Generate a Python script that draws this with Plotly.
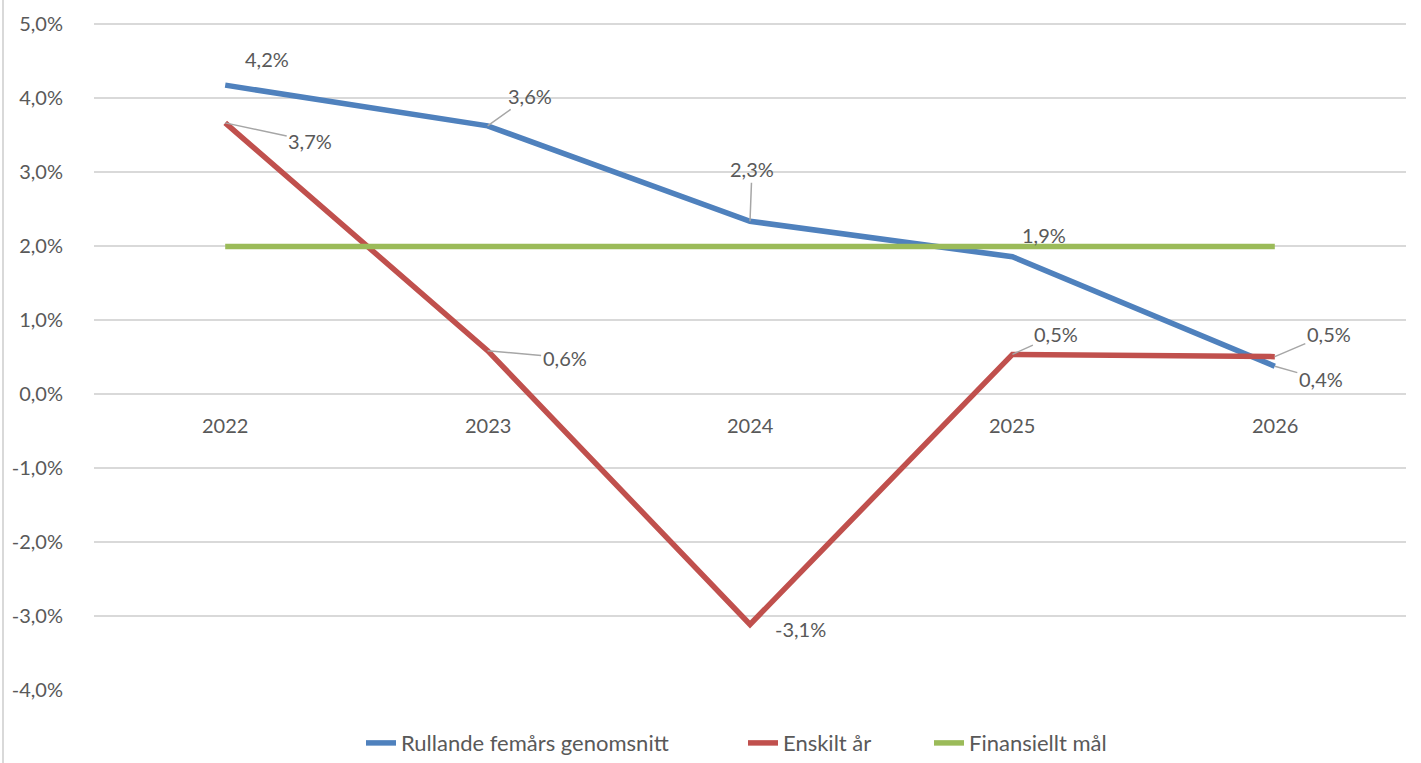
import plotly.graph_objects as go

years = ["2022", "2023", "2024", "2025", "2026"]
rullande = [4.18, 3.63, 2.34, 1.86, 0.38]
enskilt = [3.67, 0.59, -3.11, 0.54, 0.51]
mal = [2.0, 2.0, 2.0, 2.0, 2.0]
names = ["Rullande femårs genomsnitt", "Enskilt år", "Finansiellt mål"]
ytickvals = [5, 4, 3, 2, 1, 0, -1, -2, -3, -4]
yticktext = ["5,0%", "4,0%", "3,0%", "2,0%", "1,0%", "0,0%", "-1,0%", "-2,0%", "-3,0%", "-4,0%"]

FONT = "Lato"
FS = 20
TXT = "#595959"
LEAD = "#A6A6A6"

fig = go.Figure()
colors = ["#4F81BD", "#C0504D", "#9BBB59"]
legends = ["legend", "legend2", "legend3"]
for name, vals, col, lg in zip(names, [rullande, enskilt, mal], colors, legends):
    fig.add_trace(go.Scatter(x=list(range(len(years))), y=vals, mode="lines", name=name,
                             legend=lg, line=dict(color=col, width=5.5)))

def lab(v):
    return f"{v:.1f}%".replace(".", ",")

blue_pos = [(42, -26, False), (42, -30, True), (2, -52, True), (32, -22, False), (46, 13, True)]
red_pos = [(85, 18, True), (77, 7, True), (50, 5, False), (44, -20, True), (54, -23, True)]

anns = []
for vals, pos in [(rullande, blue_pos), (enskilt, red_pos)]:
    for i, (dx, dy, arr) in enumerate(pos):
        if arr:
            anns.append(dict(x=i, y=vals[i], text=lab(vals[i]), showarrow=True,
                             arrowhead=0, arrowwidth=1.5, arrowcolor=LEAD, ax=dx, ay=dy,
                             font=dict(family=FONT, size=FS, color=TXT)))
        else:
            anns.append(dict(x=i, y=vals[i], text=lab(vals[i]), showarrow=False,
                             xshift=dx, yshift=-dy,
                             font=dict(family=FONT, size=FS, color=TXT)))
for i, y in enumerate(years):
    anns.append(dict(x=i, y=0, text=y, showarrow=False, yshift=-31,
                     font=dict(family=FONT, size=FS, color=TXT)))

leg_common = dict(orientation="h", y=-0.078, yanchor="middle", xanchor="left",
                  font=dict(family=FONT, size=22, color=TXT), itemwidth=30,
                  bgcolor="rgba(0,0,0,0)")
fig.update_layout(
    width=1421, height=763,
    margin=dict(l=94, r=15, t=23, b=72, autoexpand=False),
    paper_bgcolor="white", plot_bgcolor="white",
    font=dict(family=FONT, size=FS, color=TXT),
    showlegend=True,
    legend=dict(x=(361 - 94) / 1312, **leg_common),
    legend2=dict(x=(743 - 94) / 1312, **leg_common),
    legend3=dict(x=(929 - 94) / 1312, **leg_common),
    xaxis=dict(range=[-0.5, 4.5], showgrid=False, zeroline=False,
               showticklabels=False, showline=False, automargin=False),
    yaxis=dict(range=[-4.01, 5.02], tickvals=ytickvals, ticktext=yticktext, automargin=False,
               showgrid=True, gridcolor="#D9D9D9", gridwidth=1.5, zeroline=False,
               showline=False, ticks="", ticklabelstandoff=30,
               tickfont=dict(family=FONT, size=FS, color=TXT)),
    annotations=anns,
    shapes=[dict(type="line", xref="paper", yref="paper", x0=-91/1312, x1=-91/1312,
                 y0=-72/668, y1=1 + 23/668, line=dict(color="#D9D9D9", width=2))],
)

fig.write_html("out.html", config={"displayModeBar": False},
               post_script="document.body.style.margin='0';document.body.style.padding='0';document.body.style.overflow='hidden';")
